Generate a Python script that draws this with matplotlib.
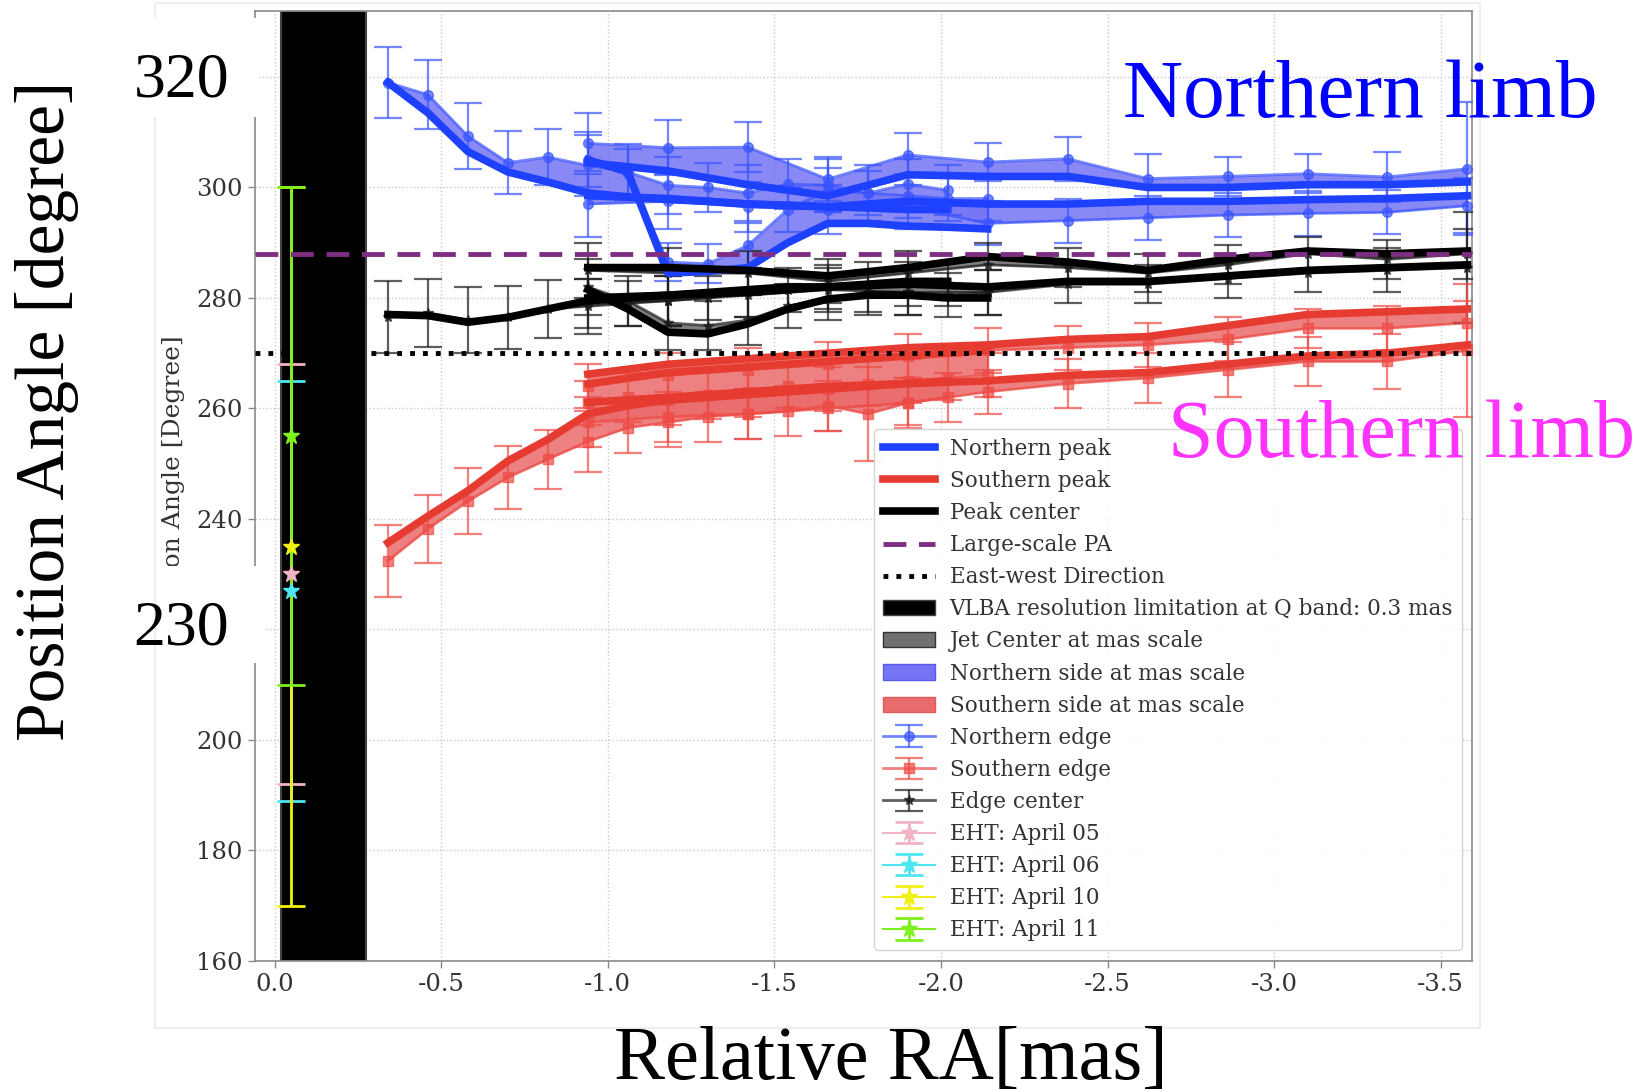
import matplotlib
matplotlib.use("Agg")
import matplotlib.pyplot as plt
from matplotlib.lines import Line2D
from matplotlib.patches import Patch, Rectangle

plt.rcParams['axes.unicode_minus'] = False
plt.rcParams['font.family'] = ['DejaVu Serif']

# ---------------- data ----------------
# x positions (relative RA, mas)
X_STEP1 = [-0.34, -0.46, -0.58, -0.70, -0.82, -0.94, -1.06, -1.18, -1.30,
           -1.42, -1.54, -1.66, -1.78, -1.90, -2.02]
X_DIP = [-0.94, -1.06, -1.18, -1.30, -1.42, -1.54, -1.66, -1.78, -1.90,
         -2.02, -2.14]
X_STEP2 = [-0.94, -1.18, -1.42, -1.66, -1.90, -2.14, -2.38, -2.62, -2.86,
           -3.10, -3.34, -3.58]

# Northern limb
NA_peak = [319.0, 313.5, 306.5, 302.8, 301.0, 299.0, 298.3, 297.8, 297.5, 297.0, 296.8, 296.5, 296.3, 296.0, 296.0]
NA_edge = [319.0, 316.8, 309.3, 304.5, 305.5, 304.0, 302.8, 300.4, 300.0, 299.0, 300.6, 300.4, 299.0, 300.6, 299.5]
NA_err = [6.5, 6.2, 6.0, 5.7, 5.0, 5.5, 5.0, 5.2, 4.5, 5.0, 4.5, 4.8, 5.0, 4.5, 4.5]
NB_peak = [304.5, 303.0, 300.5, 298.5, 302.3, 302.0, 302.0, 300.0, 300.0, 300.5, 300.5, 301.0]
NB_edge = [308.0, 307.2, 307.3, 301.5, 305.9, 304.6, 305.2, 301.6, 302.0, 302.5, 301.9, 303.4]
NB_err = [5.5, 5.0, 4.5, 4.0, 4.0, 3.5, 4.0, 4.5, 3.5, 3.5, 4.5, 12.0]
NC_peak = [305.0, 302.8, 284.5, 284.8, 285.5, 290.0, 293.5, 293.5, 293.0, 292.8, 292.5]
NC_edge = [305.0, 302.5, 286.5, 286.2, 289.5, 296.0, 299.5, 299.0, 298.5, 298.0, 298.0]
NC_err = [5.0, 4.5, 3.5, 3.5, 4.0, 4.0, 4.0, 4.0, 4.0, 4.0, 4.0]
ND_peak = [298.5, 298.0, 297.0, 296.5, 297.5, 297.0, 297.0, 297.5, 297.5, 297.8, 298.0, 298.5]
ND_edge = [297.0, 297.5, 296.5, 296.0, 296.5, 293.5, 294.0, 294.5, 295.0, 295.3, 295.5, 296.7]
ND_err = [6.0, 5.0, 4.5, 4.5, 4.0, 4.0, 4.0, 4.0, 4.0, 4.0, 4.0, 5.0]

# Jet center
CA_peak = [277.0, 276.8, 275.6, 276.5, 278.0, 279.5, 280.0, 280.5, 281.0, 281.5, 282.0, 282.0, 282.5, 283.0, 283.0]
CA_edge = [276.5, 277.3, 276.0, 276.5, 278.0, 278.5, 279.0, 279.5, 280.0, 281.0, 281.5, 282.0, 282.0, 282.5, 282.5]
CA_err = [6.5, 6.2, 6.0, 5.7, 5.3, 5.0, 4.0, 4.5, 4.0, 4.5, 4.0, 4.0, 4.5, 4.0, 4.0]
CB_peak = [285.5, 285.5, 285.0, 284.0, 285.5, 287.5, 286.5, 285.0, 287.0, 288.5, 288.0, 288.5]
CB_edge = [285.0, 284.5, 284.5, 283.0, 284.5, 286.0, 285.5, 284.5, 286.0, 288.0, 287.0, 288.0]
CB_err = [5.0, 4.5, 4.0, 4.0, 4.0, 4.0, 3.5, 3.5, 3.5, 3.0, 3.5, 4.5]
CC_peak = [281.5, 278.0, 273.8, 273.5, 275.3, 278.0, 279.8, 280.5, 280.5, 280.0, 280.0]
CC_edge = [282.0, 279.5, 275.5, 275.0, 276.0, 278.5, 280.0, 281.0, 281.0, 280.5, 281.0]
CC_err = [5.0, 4.5, 5.0, 4.5, 4.5, 4.0, 4.0, 4.0, 4.0, 4.0, 4.0]
CD_peak = [280.0, 280.5, 281.0, 282.0, 282.5, 282.0, 283.0, 283.0, 284.0, 285.0, 285.5, 286.0]
CD_edge = [279.0, 279.5, 280.5, 281.5, 281.0, 281.0, 282.5, 282.5, 283.5, 284.5, 285.0, 285.5]
CD_err = [4.5, 4.5, 4.0, 4.0, 4.0, 4.0, 3.5, 3.5, 3.5, 3.5, 4.0, 10.0]

# Southern limb
SA_peak = [235.7, 240.5, 245.1, 250.5, 254.4, 259.0, 260.5, 261.5, 262.0, 262.5, 263.0, 263.5, 264.0, 264.5, 265.0]
SA_edge = [232.4, 238.2, 243.2, 247.5, 250.8, 254.0, 256.5, 257.5, 258.5, 259.0, 259.5, 260.5, 259.0, 261.0, 262.0]
SA_err = [6.5, 6.2, 6.0, 5.7, 5.3, 5.5, 4.5, 4.5, 4.5, 4.5, 4.5, 4.5, 8.5, 4.5, 4.5]
SB_peak = [266.2, 268.0, 269.0, 270.0, 271.0, 271.5, 272.5, 273.0, 275.0, 277.0, 277.5, 278.0]
SB_edge = [264.0, 266.0, 267.0, 268.0, 269.5, 270.5, 271.0, 271.5, 272.5, 274.5, 274.5, 275.5]
SB_err = [4.0, 4.0, 4.0, 4.0, 4.0, 4.0, 4.0, 4.0, 4.0, 3.5, 4.0, 4.0]
SC_peak = [264.4, 265.5, 266.5, 267.0, 267.5, 268.0, 268.5, 269.0, 269.5, 270.0, 270.5]
SC_edge = [261.0, 262.0, 261.5, 262.5, 263.0, 264.0, 263.5, 264.5, 265.0, 265.5, 266.0]
SC_err = [4.0, 4.5, 4.5, 4.5, 4.5, 4.0, 4.0, 4.0, 4.0, 4.0, 4.0]
SD_peak = [261.1, 262.0, 263.0, 264.0, 264.5, 265.0, 266.0, 266.5, 268.0, 269.5, 270.0, 271.5]
SD_edge = [257.5, 258.5, 259.0, 260.0, 261.0, 263.0, 264.5, 265.5, 267.0, 268.5, 268.5, 270.5]
SD_err = [4.5, 4.5, 4.5, 4.0, 4.0, 4.0, 4.5, 4.5, 5.0, 4.5, 5.0, 12.0]

# reference lines
LARGE_SCALE_PA = 288.0
EAST_WEST_PA = 270.0
VLBA_RES = (-0.02, -0.275)

# EHT
EHT_X = -0.05
EHT_labels = ['EHT: April 05', 'EHT: April 06', 'EHT: April 10', 'EHT: April 11']
EHT_pa = [230.0, 227.0, 235.0, 255.0]
EHT_err = [38.0, 38.0, 65.0, 45.0]
EHT_colors = ['#f2b4c3', '#4ee6f0', '#f0f012', '#7ef01e']

XTICKS = [0.0, -0.5, -1.0, -1.5, -2.0, -2.5, -3.0, -3.5]
XTICKLABELS = ['0.0', '-0.5', '-1.0', '-1.5', '-2.0', '-2.5', '-3.0', '-3.5']
YTICKS = [160, 180, 200, 220, 240, 260, 280, 300, 320]
YTICKLABELS = ['160', '180', '200', '220', '240', '260', '280', '300', '320']

# ---------------- styles ----------------
BLUE = '#1e40ff'
BLUE_FILL = '#7474f4'
BLUE_ERR = '#3a55ff'
RED = '#e63b31'
RED_FILL = '#ea6b6b'
RED_ERR = '#ee4b45'
BLACK = '#000000'
GRAY_FILL = '#686868'
PURPLE = '#7e2e82'

fig = plt.figure(figsize=(16.43, 10.92), dpi=100)
ax = fig.add_axes([0.1550, 0.1201, 0.7412, 0.8701])
ax.set_axisbelow(True)
ax.grid(True, ls=':', color='#c9c9c9', lw=1.0)

ax.axvspan(VLBA_RES[0], VLBA_RES[1], facecolor='black', edgecolor='#444444', lw=1.5, zorder=1)

def limb(x, peak, edge, err, lc, fc, ec, marker, ms):
    ax.fill_between(x, peak, edge, color=fc, alpha=0.85, lw=0, zorder=2)
    ax.plot(x, peak, color=lc, lw=5.5, zorder=4, solid_joinstyle='round')
    c = ax.errorbar(x, edge, yerr=err, fmt='-' + marker, color=ec, ms=ms, lw=2.0,
                    elinewidth=1.6, capsize=10, capthick=1.6, alpha=0.7, zorder=3)
    return c

edge_n = None
for x, p, e, r in [(X_STEP1, NA_peak, NA_edge, NA_err), (X_STEP2, NB_peak, NB_edge, NB_err),
                   (X_DIP, NC_peak, NC_edge, NC_err), (X_STEP2, ND_peak, ND_edge, ND_err)]:
    c = limb(x, p, e, r, BLUE, BLUE_FILL, BLUE_ERR, 'o', 7)
    edge_n = edge_n or c
edge_c = None
for x, p, e, r in [(X_STEP1, CA_peak, CA_edge, CA_err), (X_STEP2, CB_peak, CB_edge, CB_err),
                   (X_DIP, CC_peak, CC_edge, CC_err), (X_STEP2, CD_peak, CD_edge, CD_err)]:
    c = limb(x, p, e, r, BLACK, GRAY_FILL, '#1a1a1a', '*', 7)
    edge_c = edge_c or c
edge_s = None
for x, p, e, r in [(X_STEP1, SA_peak, SA_edge, SA_err), (X_STEP2, SB_peak, SB_edge, SB_err),
                   (X_DIP, SC_peak, SC_edge, SC_err), (X_STEP2, SD_peak, SD_edge, SD_err)]:
    c = limb(x, p, e, r, RED, RED_FILL, RED_ERR, 's', 7)
    edge_s = edge_s or c

ax.axhline(LARGE_SCALE_PA, color=PURPLE, lw=3.5, ls=(0, (4.7, 2.6)), zorder=6)
ax.axhline(EAST_WEST_PA, color='black', lw=3.5, ls=':', zorder=6)

eht = []
for lab, pa, er, col in zip(EHT_labels, EHT_pa, EHT_err, EHT_colors):
    eht.append(ax.errorbar([EHT_X], [pa], yerr=[er], fmt='-*', color=col, ms=12,
                           elinewidth=2.0, capsize=10, capthick=2.0, zorder=5))

ax.set_xlim(0.06, -3.595)
ax.set_ylim(160, 332)
ax.set_xticks(XTICKS)
ax.set_xticklabels(XTICKLABELS)
ax.set_yticks(YTICKS)
ax.set_yticklabels(YTICKLABELS)
ax.tick_params(labelsize=17.5, colors='#888888', labelcolor='#333333', length=5, width=1)
for s in ax.spines.values():
    s.set_color('#8a8a8a')
    s.set_linewidth(1.2)

handles = [
    Line2D([], [], color=BLUE, lw=5.5),
    Line2D([], [], color=RED, lw=5.5),
    Line2D([], [], color=BLACK, lw=5.5),
    Line2D([], [], color=PURPLE, lw=3.5, ls=(0, (4.7, 2.6))),
    Line2D([], [], color='black', lw=3.5, ls=':'),
    Patch(facecolor='black', edgecolor='#444444'),
    Patch(facecolor='#707070', edgecolor='#333333'),
    Patch(facecolor=BLUE_FILL, edgecolor='#5a5af0'),
    Patch(facecolor=RED_FILL, edgecolor='#e05a5a'),
    edge_n, edge_s, edge_c, *eht,
]
labels = ['Northern peak', 'Southern peak', 'Peak center', 'Large-scale PA',
          'East-west Direction', 'VLBA resolution limitation at Q band: 0.3 mas',
          'Jet Center at mas scale', 'Northern side at mas scale',
          'Southern side at mas scale', 'Northern edge', 'Southern edge',
          'Edge center', *EHT_labels]
leg = ax.legend(handles, labels, loc='lower right', fontsize=15.5, labelspacing=0.47,
                handlelength=2.4, handletextpad=0.7, framealpha=0.9, edgecolor='#d0d0d0',
                borderaxespad=0.5)
for t in leg.get_texts():
    t.set_color('#333333')
leg.set_zorder(10)

# original (small) y label, partially hidden by overlay boxes
fig.text(0.1053, 0.555, 'Position Angle [Degree]', rotation=90, ha='center', va='center',
         fontsize=18, color='#333333', zorder=2)

# faint border of the original figure
fig.patches.append(Rectangle((0.0943, 0.0586), 0.8064, 0.9386, transform=fig.transFigure,
                             fill=False, edgecolor='#eeeeee', lw=1.5, zorder=0.5))
# white overlay boxes
for (x0, y0, w, h) in [(0.0913, 0.8929, 0.0651, 0.0907), (0.0962, 0.3929, 0.0645, 0.0888)]:
    fig.patches.append(Rectangle((x0, y0), w, h, transform=fig.transFigure,
                                 facecolor='white', edgecolor='none', zorder=5))

SER = ['Liberation Serif', 'DejaVu Serif']
fig.text(0.1103, 0.9117, '320', fontsize=46, family=SER, ha='center', va='baseline', zorder=7)
fig.text(0.1103, 0.4100, '230', fontsize=46, family=SER, ha='center', va='baseline', zorder=7)
fig.text(0.0287, 0.6236, 'Position Angle [degree]', fontsize=50, family=SER, rotation=90,
         ha='center', va='center', zorder=7)
fig.text(0.5424, 0.0119, 'Relative RA[mas]', fontsize=55, family=SER, ha='center',
         va='baseline', zorder=7)
fig.text(0.8281, 0.8925, 'Northern limb', fontsize=60, family=SER, color='#0000ff',
         ha='center', va='baseline', zorder=7)
fig.text(0.8530, 0.5815, 'Southern limb', fontsize=59, family=SER, color='#ff33ff',
         ha='center', va='baseline', zorder=7)

fig.savefig('out.png', dpi=100)
